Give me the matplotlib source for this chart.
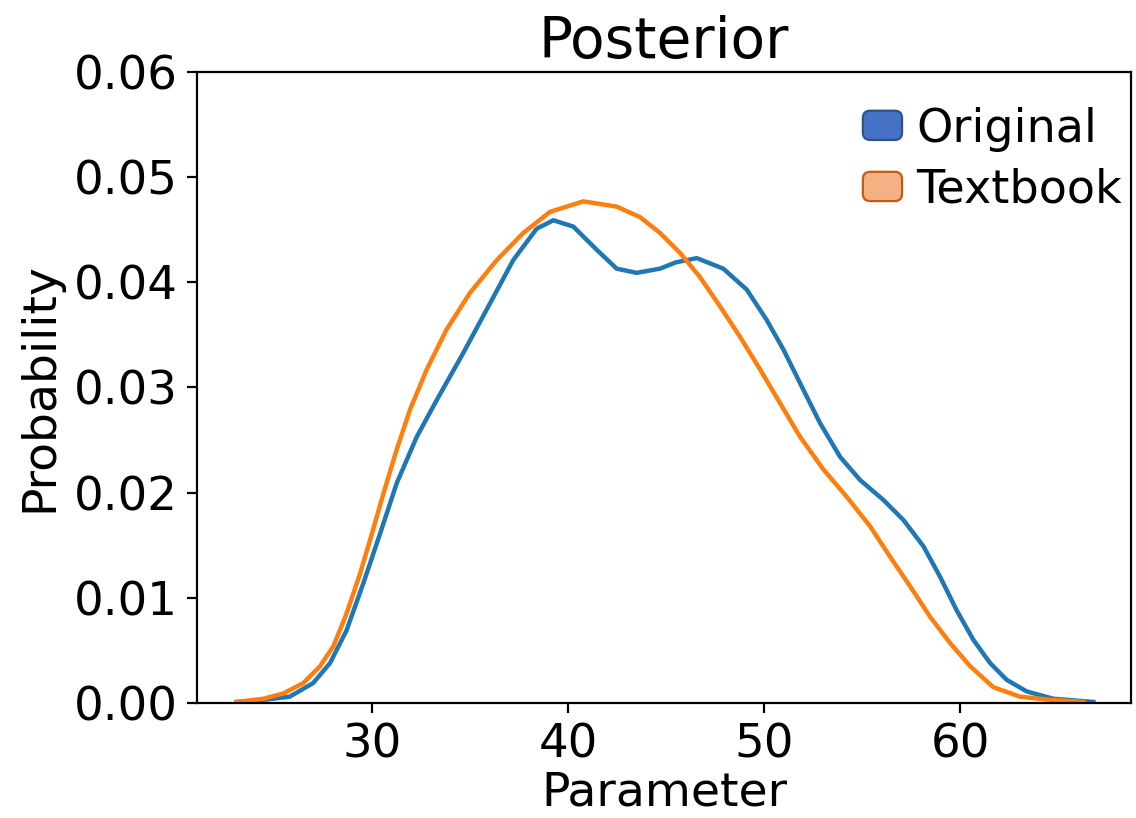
# posterior density plot, original vs textbook
import numpy as np
import matplotlib
matplotlib.use('Agg')
import matplotlib.pyplot as plt
from matplotlib.patches import FancyBboxPatch
from matplotlib.legend_handler import HandlerPatch

# values
orig_x = [23.1, 24.45, 25.8, 27.0, 27.86, 28.7, 29.56, 30.41, 31.26, 32.28,
          33.3, 34.66, 36.02, 37.2, 38.4, 39.25, 40.27, 41.46, 42.48, 43.5,
          44.69, 45.5, 46.57, 47.92, 49.12, 50.14, 50.99, 51.84, 52.86,
          53.88, 54.9, 56.09, 57.11, 58.13, 58.98, 59.83, 60.68, 61.53,
          62.38, 63.4, 64.76, 66.8]
orig_p = [0.0001, 0.0003, 0.0006, 0.0019, 0.0038, 0.0069, 0.0114, 0.0161,
          0.0209, 0.0253, 0.0288, 0.0333, 0.0380, 0.0421, 0.0451, 0.0459,
          0.0453, 0.0431, 0.0413, 0.0409, 0.0413, 0.0419, 0.0423, 0.0413,
          0.0393, 0.0364, 0.0336, 0.0304, 0.0266, 0.0234, 0.0212, 0.0193,
          0.0174, 0.0149, 0.0120, 0.0088, 0.0060, 0.0038, 0.0022, 0.0011,
          0.0004, 0.0001]

text_x = [23.1, 24.45, 25.47, 26.5, 27.35, 28.03, 28.7, 29.39, 29.9, 30.58,
          31.26, 31.94, 32.79, 33.8, 35.0, 36.36, 37.72, 39.08, 40.78, 42.48,
          43.67, 44.69, 45.71, 46.73, 47.76, 48.78, 49.8, 50.82, 51.84,
          53.03, 54.22, 55.41, 56.43, 57.45, 58.47, 59.49, 60.51, 61.7,
          63.06, 64.59, 66.3]
text_p = [0.0001, 0.0004, 0.0009, 0.0019, 0.0035, 0.0054, 0.0085, 0.0123,
          0.0155, 0.0199, 0.0241, 0.0279, 0.0317, 0.0355, 0.0390, 0.0421,
          0.0447, 0.0467, 0.0477, 0.0472, 0.0462, 0.0447, 0.0428, 0.0405,
          0.0377, 0.0348, 0.0317, 0.0285, 0.0253, 0.0222, 0.0196, 0.0168,
          0.0139, 0.0111, 0.0082, 0.0057, 0.0035, 0.0015, 0.0006, 0.0003,
          0.0001]

labels = ['Original', 'Textbook']


def rounded_box(legend, orig_handle, xdescent, ydescent, width, height, fontsize):
    p = FancyBboxPatch((-xdescent, -ydescent), width, height,
                       boxstyle='round,pad=0,rounding_size=%f' % (height * 0.25))
    p.update_from(orig_handle)
    return p


plt.rcParams['font.size'] = 17
fig = plt.figure(figsize=(5.68, 4.09), dpi=200)
ax = fig.add_axes([0.1734, 0.1406, 0.8222, 0.7714])

ax.plot(orig_x, orig_p, color='#1f77b4', lw=1.6, solid_joinstyle='round')
ax.plot(text_x, text_p, color='#ff7f0e', lw=1.6, solid_joinstyle='round')

ax.set_xlim(21.07, 68.72)
ax.set_ylim(0, 0.06)
ax.set_xticks([30, 40, 50, 60])
ax.tick_params(labelsize=16.8)
ax.set_xlabel('Parameter', labelpad=1)
ax.set_ylabel('Probability', labelpad=4)
ax.set_title('Posterior', pad=5)

h1 = FancyBboxPatch((0, 0), 1, 1, facecolor='#4472C4', edgecolor='#2F528F', lw=0.8)
h2 = FancyBboxPatch((0, 0), 1, 1, facecolor='#F4B183', edgecolor='#C55A11', lw=0.8)
ax.legend([h1, h2], labels, loc='upper right', frameon=False, fontsize=16.6,
          handlelength=0.85, handleheight=0.6, handletextpad=0.3,
          borderaxespad=0.5, borderpad=0.25, labelspacing=0.35,
          bbox_to_anchor=(1.027, 1.0),
          handler_map={FancyBboxPatch: HandlerPatch(patch_func=rounded_box)})

fig.savefig('out.png', dpi=200)
